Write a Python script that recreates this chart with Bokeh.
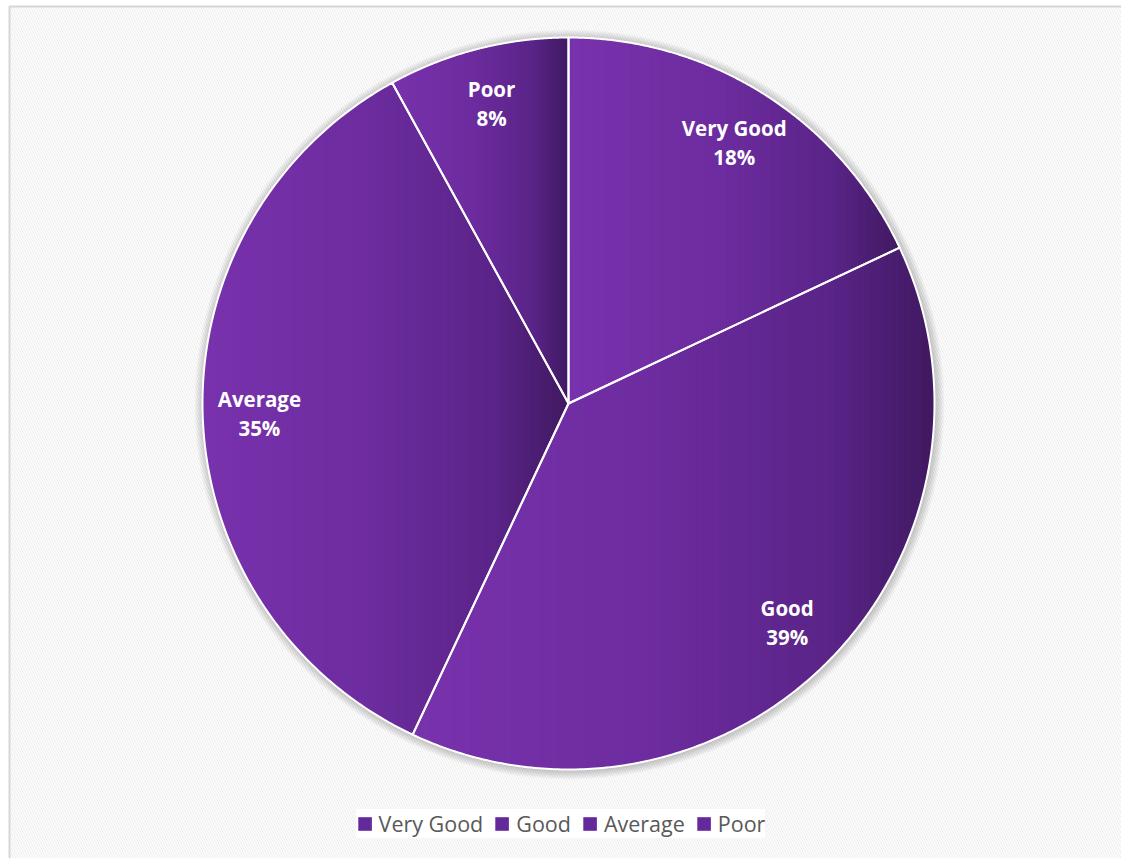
import numpy as np
from bokeh.plotting import figure
from bokeh.models import Legend, LegendItem
from bokeh.core.properties import value
from bokeh.embed import file_html
from bokeh.resources import INLINE

# Rating distribution
categories = ["Very Good", "Good", "Average", "Poor"]
shares = [18, 39, 35, 8]

# Canvas / pie geometry (in pixel-like data units)
W, H = 1121, 858
CX, CY, R = 568, 455, 366
LABEL_R = 0.845

# horizontal gradient stops used inside every slice (position, rgb)
STOPS = [(0.0, (120, 50, 173)), (0.45, (109, 44, 159)),
         (0.8, (90, 36, 136)), (1.0, (64, 25, 97))]


def grad_color(t):
    for (p0, c0), (p1, c1) in zip(STOPS[:-1], STOPS[1:]):
        if t <= p1:
            f = (t - p0) / (p1 - p0) if p1 > p0 else 0
            c = [round(a + (b - a) * f) for a, b in zip(c0, c1)]
            return "#%02x%02x%02x" % tuple(c)
    return "#%02x%02x%02x" % STOPS[-1][1]


def wedge_poly(a0, a1, n=240):
    # angles measured clockwise from 12 o'clock
    t = np.linspace(a0, a1, n)
    xs = CX + R * np.sin(t)
    ys = CY + R * np.cos(t)
    return list(np.r_[CX, xs]), list(np.r_[CY, ys])


def clip_x(pts, x0, keep_right):
    out = []
    n = len(pts)
    for i in range(n):
        cx_, cy_ = pts[i]
        nx_, ny_ = pts[(i + 1) % n]
        cin = cx_ >= x0 if keep_right else cx_ <= x0
        nin = nx_ >= x0 if keep_right else nx_ <= x0
        if cin:
            out.append((cx_, cy_))
        if cin != nin:
            t = (x0 - cx_) / (nx_ - cx_)
            out.append((x0, cy_ + t * (ny_ - cy_)))
    return out


p = figure(width=W, height=H, x_range=(0, W), y_range=(0, H),
           output_backend="svg", toolbar_location=None, min_border=0,
           x_axis_location=None, y_axis_location=None)
p.grid.visible = False
p.outline_line_color = None
p.background_fill_color = "white"
p.border_fill_color = "white"

# chart area with diagonal texture and thin border
p.quad(left=9, right=W + 6, bottom=-6, top=H - 6,
       fill_color="white", hatch_pattern="\\", hatch_color="#EFEFEF",
       hatch_scale=5, hatch_weight=1.2,
       line_color="#D6D6D6", line_width=2)

# soft shadow around the pie
for k in range(1, 10):
    p.circle(x=[CX + 1], y=[CY - 1], radius=R + k, fill_color="black",
             fill_alpha=0.022, line_color=None)

# slices
total = float(sum(shares))
bounds = np.cumsum([0] + shares) / total * 2 * np.pi
strip_xs, strip_ys, strip_cols = [], [], []
outline_xs, outline_ys = [], []
label_x, label_y = [], []
for i, cat in enumerate(categories):
    a0, a1 = bounds[i], bounds[i + 1]
    wx, wy = wedge_poly(a0, a1)
    outline_xs.append(wx)
    outline_ys.append(wy)
    pts = list(zip(wx, wy))
    xmin, xmax = min(wx), max(wx)
    nstrip = 90
    step = (xmax - xmin) / nstrip
    for j in range(nstrip):
        s0 = xmin + j * step - 0.6
        s1 = xmin + (j + 1) * step + 0.6
        poly = clip_x(clip_x(pts, s0, True), s1, False)
        if len(poly) < 3:
            continue
        strip_xs.append([q[0] for q in poly])
        strip_ys.append([q[1] for q in poly])
        strip_cols.append(grad_color((j + 0.5) / nstrip))
    mid = (a0 + a1) / 2
    label_x.append(CX + LABEL_R * R * np.sin(mid))
    label_y.append(CY + LABEL_R * R * np.cos(mid))

p.patches(strip_xs, strip_ys, fill_color=strip_cols, line_color=None)
p.patches(outline_xs, outline_ys, fill_color=None, line_color="white",
          line_width=2, line_join="round")

# data labels
pct_text = ["%d%%" % s for s in shares]
p.text(x=label_x, y=[y + 14.5 for y in label_y], text=categories,
       text_font=value("Open Sans"), text_font_style="bold",
       text_font_size="20.5px", text_color="white",
       text_align="center", text_baseline="middle")
p.text(x=label_x, y=[y - 14.5 for y in label_y], text=pct_text,
       text_font=value("Open Sans"), text_font_style="bold",
       text_font_size="20.5px", text_color="white",
       text_align="center", text_baseline="middle")

# legend swatches (kept outside the visible range)
items = []
for cat in categories:
    r = p.quad(left=[-50], right=[-40], bottom=[-50], top=[-40],
               fill_color="#64299A", line_color=None)
    items.append(LegendItem(label=cat, renderers=[r]))

legend = Legend(items=items, orientation="horizontal",
                location="bottom_center", margin=20, padding=7,
                spacing=10, label_standoff=6,
                glyph_width=17, glyph_height=17,
                label_text_font="Open Sans", label_text_font_size="21.5px",
                label_text_color="#595959",
                background_fill_color="white", background_fill_alpha=1,
                border_line_color=None)
p.add_layout(legend)

open("out.html", "w").write(file_html(p, INLINE))
